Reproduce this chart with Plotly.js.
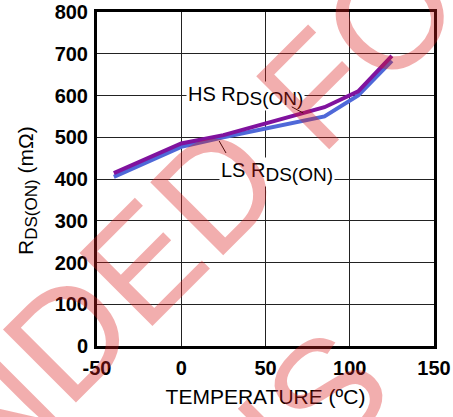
<!DOCTYPE html>
<html><head><meta charset="utf-8">
<script src="https://cdn.plot.ly/plotly-3.0.1.min.js"></script>
<style>html,body{margin:0;padding:0;background:#fff}</style>
</head><body><div id="chart" style="width:453px;height:417px"></div>
<script>
const temperature = [-40, 0, 25, 85, 105, 125];
const hsRdsOn = [414, 485, 505, 572, 610, 695];
const lsRdsOn = [405, 477, 500, 550, 600, 683];
const xTicks = [-50, 0, 50, 100, 150];
const yTicks = [0, 100, 200, 300, 400, 500, 600, 700, 800];
const hsLabel = 'HS R<sub><span style="font-size:19px">DS(ON)</span></sub>';
const lsLabel = 'LS R<sub><span style="font-size:19px">DS(ON)</span></sub>';
const xTitle = 'TEMPERATURE (ºC)';
const yTitle = 'R<sub><span style="font-size:17px">DS(ON)</span></sub> (mΩ)';
const watermarkLines = ['NOT RECOMMENDED FOR', 'NEW DESIGNS'];

const FONT = 'Liberation Sans, Arial, Helvetica, sans-serif';
const L = 97, R = 19, T = 12, B = 71, W = 453, H = 417;
const PW = W - L - R, PH = H - T - B;
const px = v => (v - L) / PW;
const py = v => (H - B - v) / PH;

const traces = [
  {x: temperature, y: lsRdsOn, type: 'scatter', mode: 'lines', name: 'LS',
   line: {color: '#4f68d8', width: 4}},
  {x: temperature, y: hsRdsOn, type: 'scatter', mode: 'lines', name: 'HS',
   line: {color: '#80129e', width: 4}}
];

const wmFont = {family: FONT, size: 150, color: 'rgba(220,30,30,0.36)'};

const layout = {
  width: W, height: H,
  margin: {l: L, r: R, t: T, b: B, pad: 0},
  paper_bgcolor: '#fff', plot_bgcolor: '#fff',
  showlegend: false,
  font: {family: FONT, color: '#000'},
  xaxis: {
    range: [-50, 150], tickvals: xTicks, ticktext: xTicks.map(String),
    showgrid: true, gridcolor: '#222', gridwidth: 1,
    showline: true, linecolor: '#000', linewidth: 3, mirror: true,
    zeroline: false, ticks: '', ticklabelstandoff: 2,
    tickfont: {family: FONT, size: 20, color: '#000', weight: 'bold'},
    title: {text: xTitle, standoff: 12, font: {family: FONT, size: 21, color: '#000'}}
  },
  yaxis: {
    range: [0, 800], tickvals: yTicks, ticktext: yTicks.map(String),
    showgrid: true, gridcolor: '#222', gridwidth: 1,
    showline: true, linecolor: '#000', linewidth: 3, mirror: true,
    zeroline: false, ticks: '', ticklabelstandoff: 2,
    tickfont: {family: FONT, size: 20, color: '#000', weight: 'bold'}
  },
  annotations: [
    {xref: 'paper', yref: 'paper', x: px(27), y: py(191), text: yTitle, textangle: -90,
     showarrow: false, xanchor: 'center', yanchor: 'middle',
     font: {family: FONT, size: 21, color: '#000'}},
    {xref: 'x', yref: 'y', x: 38, y: 600, text: hsLabel, showarrow: false,
     xanchor: 'center', yanchor: 'middle', bgcolor: '#fff', borderpad: 1,
     font: {family: FONT, size: 20, color: '#000'}},
    {xref: 'x', yref: 'y', x: 57, y: 417, text: lsLabel, showarrow: false,
     xanchor: 'center', yanchor: 'middle', bgcolor: '#fff', borderpad: 1,
     font: {family: FONT, size: 20, color: '#000'}},
    {xref: 'x', yref: 'y', x: 72.4, y: 558, text: ' ', showarrow: true, arrowhead: 0,
     arrowwidth: 1, arrowcolor: '#000', ax: -13, ay: -7, font: {size: 1}},
    {xref: 'x', yref: 'y', x: 22.5, y: 491, text: ' ', showarrow: true, arrowhead: 0,
     arrowwidth: 1, arrowcolor: '#000', ax: 8, ay: 14, font: {size: 1}},
    {xref: 'paper', yref: 'paper', x: px(-172), y: py(577), text: watermarkLines[0],
     textangle: -45, showarrow: false, xanchor: 'center', yanchor: 'middle', font: wmFont},
    {xref: 'paper', yref: 'paper', x: px(-15), y: py(734), text: watermarkLines[1],
     textangle: -45, showarrow: false, xanchor: 'center', yanchor: 'middle', font: wmFont}
  ]
};

Plotly.newPlot('chart', traces, layout, {displayModeBar: false, staticPlot: true});
</script></body></html>
